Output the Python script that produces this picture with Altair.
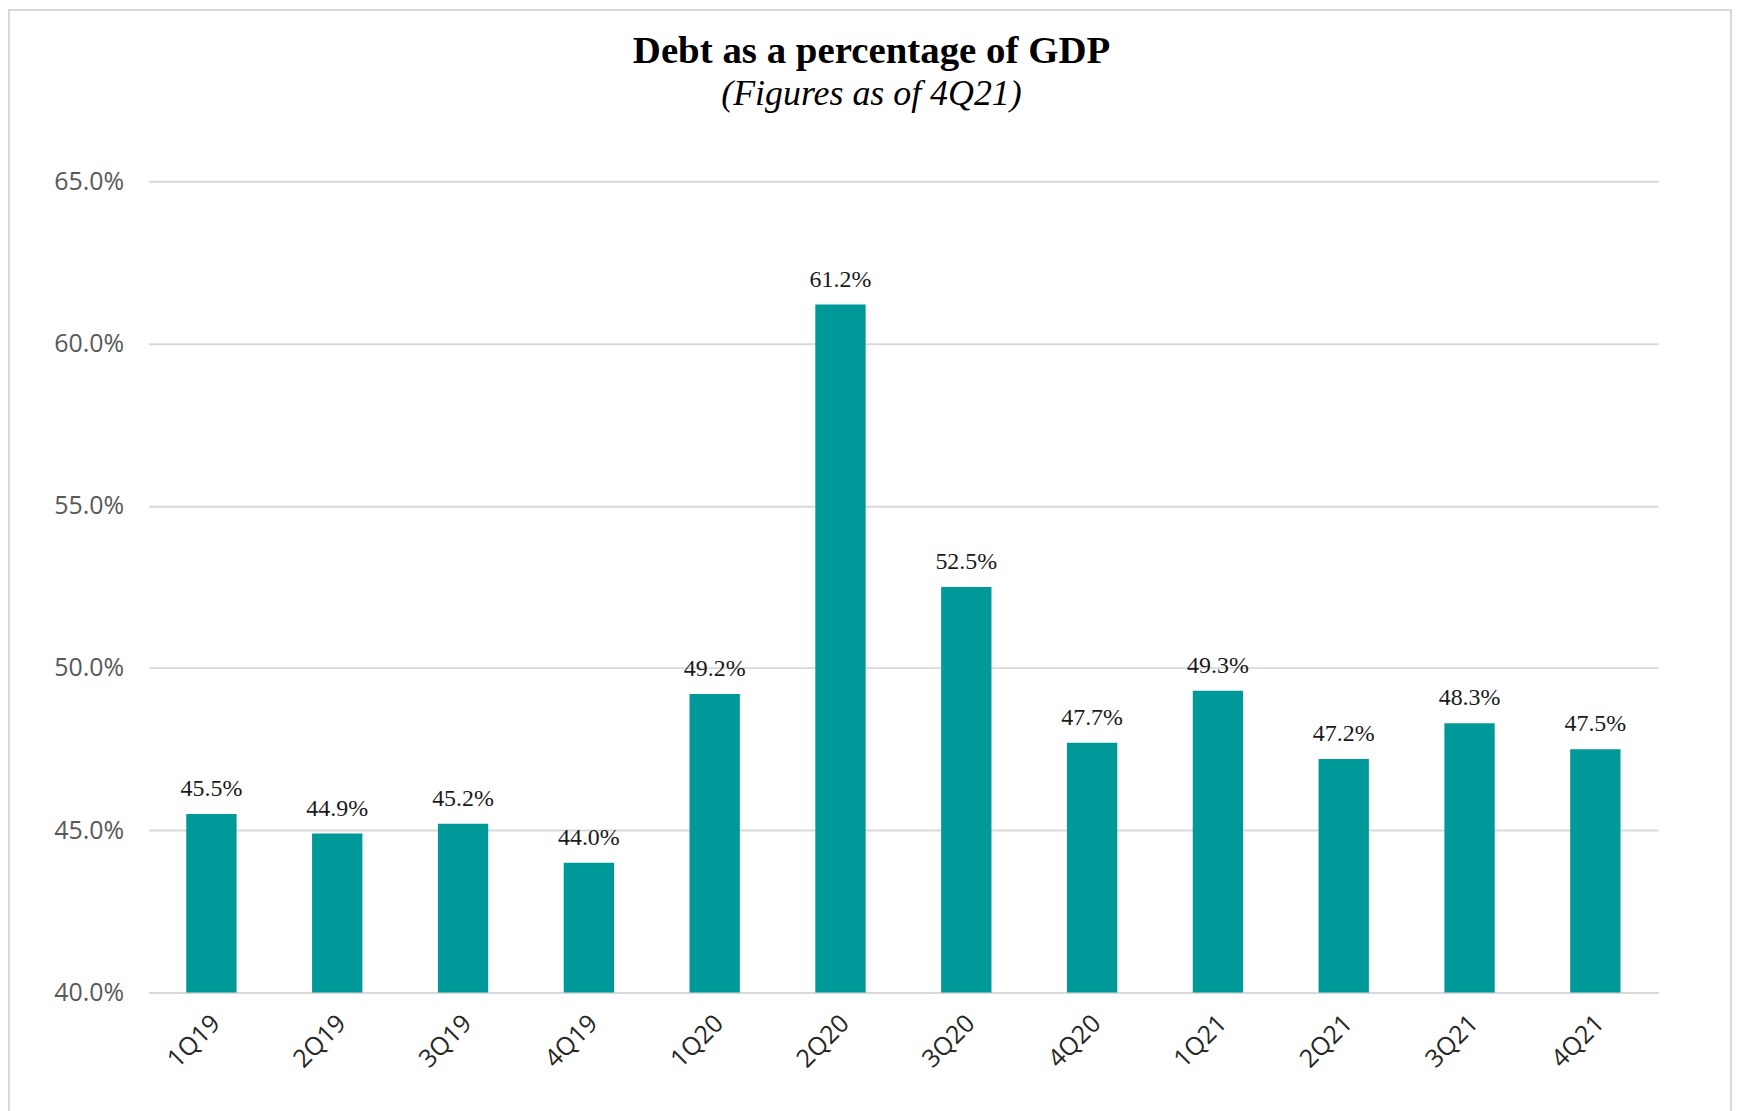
import altair as alt
import pandas as pd

quarters = ["1Q19", "2Q19", "3Q19", "4Q19", "1Q20", "2Q20",
            "3Q20", "4Q20", "1Q21", "2Q21", "3Q21", "4Q21"]
debt_pct = [45.5, 44.9, 45.2, 44.0, 49.2, 61.2, 52.5, 47.7, 49.3, 47.2, 48.3, 47.5]
y_ticks = [40, 45, 50, 55, 60, 65]

df = pd.DataFrame({"quarter": quarters, "debt": debt_pct})

W, H = 1515, 814

base = alt.Chart(df).encode(
    x=alt.X("quarter:N", sort=quarters,
            scale=alt.Scale(paddingInner=0.6, paddingOuter=0.3),
            axis=alt.Axis(title=None, labelAngle=-45, labelAlign="right", labelBaseline="top",
                          labelPadding=18, labelOffset=-4, ticks=False, domainColor="#D9D9D9",
                          domainWidth=2, labelFont="Open Sans", labelFontSize=25,
                          labelColor="#262626")),
    y=alt.Y("debt:Q", scale=alt.Scale(domain=[40, 65], zero=False, nice=False),
            axis=alt.Axis(title=None, values=y_ticks,
                          labelExpr="format(datum.value, '.1f') + '%'",
                          ticks=False, domain=False, gridColor="#D9D9D9", gridWidth=2,
                          labelPadding=25, labelFont="Open Sans", labelFontSize=25,
                          labelColor="#595959")),
)

bars = base.mark_bar(color="#009999").encode(y2=alt.datum(40))

labels = base.transform_calculate(
    label="format(datum.debt, '.1f') + '%'"
).mark_text(font="Liberation Serif", fontSize=24, baseline="alphabetic", dy=-18,
            color="#1a1a1a").encode(text="label:N")

frame = alt.Chart(pd.DataFrame({"f": [0]})).mark_rect(
    fill=None, stroke="#D9D9D9", strokeWidth=2
).encode(x=alt.value(-140), x2=alt.value(1588), y=alt.value(-172), y2=alt.value(H + 300))

chart = alt.layer(frame, bars, labels).properties(
    width=W, height=H,
    padding={"left": 141, "top": 172, "right": 77, "bottom": 120},
    autosize=alt.AutoSizeParams(type="none"),
    title=alt.TitleParams(
        "Debt as a percentage of GDP",
        subtitle="(Figures as of 4Q21)",
        font="Liberation Serif", fontSize=39, fontWeight="bold", color="black",
        subtitleFont="Liberation Serif", subtitleFontSize=36, subtitleFontStyle="italic",
        subtitleColor="black", anchor="middle", frame="group", dx=-32,
        offset=-103, subtitlePadding=6,
    ),
).configure(background="white").configure_view(strokeWidth=0, stroke="transparent")

chart.save("out.html", embed_options={"renderer": "svg", "actions": False})
